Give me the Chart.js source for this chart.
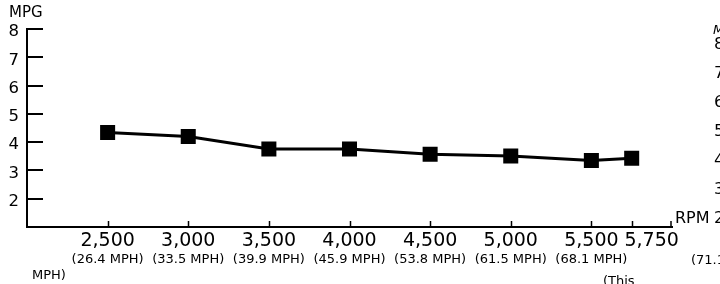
<!DOCTYPE html>
<html>
<head>
<meta charset="utf-8">
<script src="https://cdn.jsdelivr.net/npm/chart.js@4.4.1/dist/chart.umd.min.js"></script>
<style>
html,body{margin:0;padding:0;background:#fff;}
#wrap{width:720px;height:284px;position:relative;overflow:hidden;}
</style>
</head>
<body>
<div id="wrap"><canvas id="c" width="720" height="284"></canvas></div>
<script>
const rpm = [2500, 3000, 3500, 4000, 4500, 5000, 5500, 5750];
const mpg = [4.34, 4.20, 3.76, 3.76, 3.57, 3.51, 3.35, 3.43];
const rpmLabels = ["2,500", "3,000", "3,500", "4,000", "4,500", "5,000", "5,500", "5,750"];
const mphLabels = ["(26.4 MPH)", "(33.5 MPH)", "(39.9 MPH)", "(45.9 MPH)", "(53.8 MPH)", "(61.5 MPH)", "(68.1 MPH)", ""];
const yTicks = [1, 2, 3, 4, 5, 6, 7, 8];
const yTickLabels = ["", "2", "3", "4", "5", "6", "7", "8"];
const nextChartYLabels = ["8", "7", "6", "5", "4", "3", "2"];
const FONT = "'DejaVu Sans', sans-serif";

const extras = {
  id: 'extras',
  afterDraw(chart) {
    const ctx = chart.ctx;
    const x = chart.scales.x, y = chart.scales.y;
    ctx.save();
    ctx.strokeStyle = '#000';
    ctx.fillStyle = '#000';
    ctx.lineWidth = 2;
    // inward y ticks
    yTicks.forEach(v => {
      const py = Math.round(y.getPixelForValue(v));
      ctx.beginPath();
      ctx.moveTo(x.left - 1, py);
      ctx.lineTo(x.left + 16, py);
      ctx.stroke();
    });
    // y tick labels
    ctx.font = "16.5px " + FONT;
    ctx.textAlign = 'right';
    ctx.textBaseline = 'middle';
    yTicks.forEach((v, i) => {
      if (yTickLabels[i]) ctx.fillText(yTickLabels[i], 19, y.getPixelForValue(v) + 3);
    });
    // upward x ticks
    ctx.lineWidth = 1.5;
    rpm.concat([6000]).forEach(v => {
      const px = Math.min(Math.round(x.getPixelForValue(v)) + 0.5, x.right - 1);
      ctx.beginPath();
      ctx.moveTo(px, y.bottom);
      ctx.lineTo(px, y.bottom - 6);
      ctx.stroke();
    });
    // x tick labels (last one nudged right, as in the source)
    ctx.textAlign = 'center';
    ctx.font = "19px " + FONT;
    rpm.forEach((v, i) => {
      const nudge = i === rpm.length - 1 ? 20 : 0;
      ctx.fillText(rpmLabels[i], x.getPixelForValue(v) + nudge, 241);
    });
    ctx.font = "13px " + FONT;
    rpm.forEach((v, i) => {
      if (mphLabels[i]) ctx.fillText(mphLabels[i], x.getPixelForValue(v), 260);
    });
    // titles and stray texts
    ctx.textAlign = 'left';
    ctx.font = "15px " + FONT;
    ctx.fillText("MPG", 9, 13);
    ctx.font = "13px " + FONT;
    ctx.fillText("MPH)", 32, 276);
    ctx.fillText("(71.1", 691, 261);
    ctx.fillText("(This", 603, 282);
    ctx.font = "16px " + FONT;
    ctx.fillText("RPM", 675, 219);
    // partial next-chart axis at right edge
    ctx.font = "16.5px " + FONT;
    nextChartYLabels.forEach((t, i) => {
      ctx.fillText(t, 714, 45 + i * 29);
    });
    ctx.font = "italic 13px " + FONT;
    ctx.fillText("M", 713, 31);
    ctx.restore();
  }
};

new Chart(document.getElementById('c'), {
  type: 'line',
  data: {
    datasets: [{
      data: rpm.map((r, i) => ({x: r, y: mpg[i]})),
      borderColor: '#000',
      backgroundColor: '#000',
      borderWidth: 3,
      pointStyle: 'rect',
      pointRadius: 8.5,
      pointHoverRadius: 8.5,
      tension: 0,
      fill: false
    }]
  },
  options: {
    responsive: false,
    animation: false,
    events: [],
    layout: {padding: {left: 0, right: 48, top: 29, bottom: 0}},
    plugins: {legend: {display: false}, tooltip: {enabled: false}, title: {display: false}},
    scales: {
      x: {
        type: 'linear',
        min: 2000, max: 6000,
        afterBuildTicks: s => { s.ticks = rpm.map(v => ({value: v})); },
        afterFit: s => { s.height = 57; },
        grid: {display: false, drawTicks: false},
        border: {display: true, color: '#000', width: 2},
        ticks: {display: false}
      },
      y: {
        min: 1, max: 8,
        afterBuildTicks: s => { s.ticks = yTicks.map(v => ({value: v})); },
        afterFit: s => { s.width = 27; },
        grid: {display: false, drawTicks: false},
        border: {display: true, color: '#000', width: 2},
        ticks: {display: false}
      }
    }
  },
  plugins: [extras]
});
</script>
</body>
</html>
